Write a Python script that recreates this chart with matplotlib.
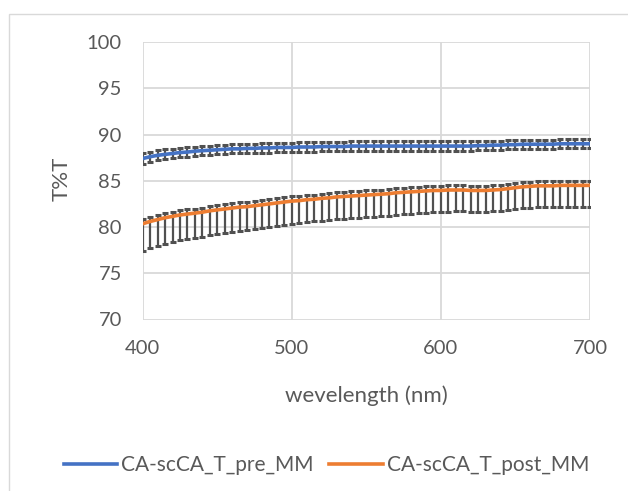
import matplotlib.pyplot as plt
from matplotlib.patches import Rectangle

wavelength = list(range(400, 701, 5))

pre_mm = [87.4, 87.6, 87.75, 87.85, 87.95, 88.05, 88.1, 88.2, 88.25, 88.3,
          88.35, 88.4, 88.45, 88.45, 88.5, 88.5, 88.55, 88.55, 88.6, 88.6,
          88.6, 88.65, 88.65, 88.65, 88.7, 88.7, 88.7, 88.7, 88.75, 88.75,
          88.75, 88.75, 88.75, 88.75, 88.75, 88.75, 88.75, 88.75, 88.75, 88.75,
          88.75, 88.75, 88.75, 88.75, 88.75, 88.8, 88.8, 88.85, 88.85, 88.9,
          88.9, 88.95, 88.95, 88.95, 88.95, 88.95, 89.0, 89.0, 89.0, 89.0,
          89.0]
pre_err = [0.55, 0.55, 0.55, 0.55, 0.5, 0.5, 0.5, 0.5, 0.5, 0.5,
           0.5, 0.5, 0.5, 0.5, 0.5, 0.5, 0.5, 0.5, 0.5, 0.5,
           0.5, 0.5, 0.5, 0.5, 0.5, 0.5, 0.5, 0.5, 0.5, 0.5,
           0.5, 0.5, 0.5, 0.5, 0.5, 0.5, 0.5, 0.5, 0.5, 0.5,
           0.5, 0.5, 0.5, 0.5, 0.5, 0.5, 0.5, 0.5, 0.5, 0.5,
           0.5, 0.5, 0.5, 0.5, 0.5, 0.5, 0.5, 0.5, 0.5, 0.5,
           0.5]

post_mm = [80.35, 80.6, 80.8, 81.0, 81.15, 81.3, 81.4, 81.5, 81.6, 81.75,
           81.85, 81.95, 82.05, 82.15, 82.2, 82.3, 82.4, 82.5, 82.6, 82.7,
           82.8, 82.85, 82.95, 83.0, 83.1, 83.15, 83.25, 83.3, 83.35, 83.4,
           83.45, 83.5, 83.55, 83.6, 83.7, 83.75, 83.8, 83.85, 83.9, 83.95,
           83.95, 84.0, 84.0, 84.0, 83.95, 83.95, 83.95, 84.0, 84.05, 84.15,
           84.25, 84.35, 84.4, 84.45, 84.45, 84.45, 84.5, 84.5, 84.5, 84.5,
           84.5]
post_err_minus = [2.9, 2.9, 2.85, 2.8, 2.8, 2.75, 2.75, 2.7, 2.7, 2.65,
                  2.65, 2.6, 2.6, 2.55, 2.55, 2.5, 2.5, 2.5, 2.45, 2.45,
                  2.45, 2.45, 2.4, 2.4, 2.4, 2.4, 2.4, 2.4, 2.4, 2.4,
                  2.4, 2.4, 2.4, 2.4, 2.4, 2.35, 2.35, 2.35, 2.35, 2.35,
                  2.35, 2.35, 2.3, 2.3, 2.3, 2.3, 2.3, 2.3, 2.3, 2.3,
                  2.3, 2.3, 2.3, 2.3, 2.3, 2.3, 2.3, 2.3, 2.3, 2.3,
                  2.3]
post_err_plus = [0.5] * len(wavelength)

grey = "#595959"
grid = "#D9D9D9"

plt.rcParams["font.family"] = ["Lato", "DejaVu Sans"]

fig = plt.figure(figsize=(6.28, 4.91), dpi=100)
# chart area border (runs off the right and bottom edges)
fig.patches.append(Rectangle((9 / 628, -0.1), 1.2, 1.1 - 14 / 491, transform=fig.transFigure,
                             fill=False, edgecolor=grid, linewidth=1.0))

ax = fig.add_axes([142.7 / 628, 1 - 319.5 / 491, (590 - 142.7) / 628, (319.5 - 42) / 491])

bar_kw = dict(fmt="none", ecolor="#505050", elinewidth=1.6, capsize=1.9, capthick=2.2)
ax.errorbar(wavelength, pre_mm, yerr=pre_err, zorder=3, **bar_kw)
ax.plot(wavelength, pre_mm, color="#4472C4", linewidth=2.6, label="CA-scCA_T_pre_MM", zorder=4)
ax.errorbar(wavelength, post_mm, yerr=[post_err_minus, post_err_plus], zorder=5, **bar_kw)
ax.plot(wavelength, post_mm, color="#ED7D31", linewidth=2.6, label="CA-scCA_T_post_MM", zorder=6)

ax.set_xlim(400, 700)
ax.set_ylim(70, 100)
ax.set_xticks([400, 500, 600, 700])
ax.set_yticks(range(70, 101, 5))
ax.grid(True, color=grid, linewidth=1.3)
ax.set_axisbelow(True)
for s in ax.spines.values():
    s.set_visible(False)
ax.tick_params(length=0, labelsize=14.5, labelcolor=grey)
ax.tick_params(axis="y", pad=15)
ax.tick_params(axis="x", pad=15)

ax.set_xlabel("wevelength (nm)", fontsize=16, color=grey, va="center")
ax.xaxis.set_label_coords(0.5, -(396 - 319.5) / 277.5)
ax.set_ylabel("T%T", fontsize=16, color=grey, va="center")
ax.yaxis.set_label_coords(-(142.7 - 62) / 447.3, 0.506)

fig.legend(loc="center", bbox_to_anchor=(0.52, 1 - 465 / 491), ncol=2, frameon=False,
           fontsize=15, labelcolor=grey, handlelength=2.55, handletextpad=0.2,
           columnspacing=0.75)

fig.savefig("out.png", dpi=100)
